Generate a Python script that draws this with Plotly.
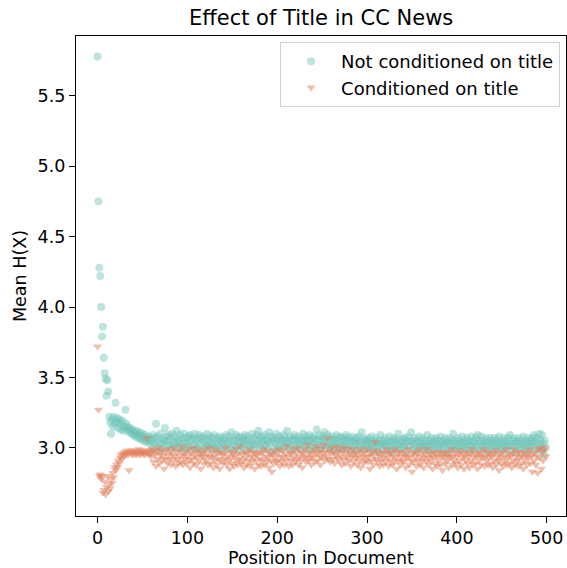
import plotly.graph_objects as go

title_text = "Effect of Title in CC News"
x_label = "Position in Document"
y_label = "Mean H(X)"
series_names = ["Not conditioned on title", "Conditioned on title"]
x_tick_vals = [0, 100, 200, 300, 400, 500]
y_tick_vals = [3.0, 3.5, 4.0, 4.5, 5.0, 5.5]

not_conditioned = [
    5.78, 4.75, 4.28, 4.22, 4.00, 3.79, 3.86, 3.64, 3.53, 3.49, 3.37, 3.48, 3.40, 3.22, 3.18, 3.10, 3.20, 3.15, 3.22, 3.17,
    3.32, 3.19, 3.21, 3.14, 3.18, 3.20, 3.13, 3.16, 3.19, 3.12, 3.15, 3.27, 3.17, 3.13, 3.15, 3.11, 3.14, 3.12, 3.10, 3.13,
    3.09, 3.11, 3.08, 3.12, 3.10, 3.07, 3.09, 3.11, 3.06, 3.08, 3.10, 3.05, 3.07, 3.09, 3.04, 3.06, 3.08, 3.05, 3.03, 3.07,
    3.05, 2.99, 3.09, 3.03, 3.07, 3.17, 3.01, 3.08, 3.04, 2.98, 3.10, 3.03, 3.06, 3.00, 3.05, 3.14, 3.08, 3.02, 3.05, 3.09,
    3.02, 3.07, 2.99, 3.10, 3.04, 3.01, 3.08, 3.03, 3.12, 3.06, 3.00, 3.04, 3.09, 3.01, 3.06, 2.98, 3.10, 3.04, 3.00, 3.07,
    3.03, 3.08, 3.01, 3.09, 3.05, 2.98, 3.07, 3.02, 3.10, 3.06, 3.00, 3.05, 2.99, 3.09, 3.03, 3.07, 2.97, 3.08, 3.04, 3.00,
    3.06, 3.02, 3.10, 3.01, 3.05, 3.08, 2.99, 3.03, 3.07, 3.01, 3.09, 3.04, 2.98, 3.03, 3.07, 3.00, 3.08, 3.05, 2.99, 3.03,
    3.07, 3.01, 3.05, 3.09, 2.99, 3.03, 3.08, 3.05, 3.00, 3.11, 3.06, 3.02, 2.98, 3.05, 3.09, 3.01, 3.07, 3.03, 3.08, 2.99,
    3.05, 3.01, 3.07, 3.03, 3.09, 3.05, 2.98, 3.08, 3.02, 3.06, 3.00, 3.04, 3.10, 3.03, 2.99, 3.07, 3.02, 3.09, 3.05, 3.12,
    3.01, 3.07, 3.03, 3.08, 2.99, 3.05, 3.09, 3.02, 3.06, 3.00, 3.05, 3.11, 3.03, 3.08, 2.97, 3.05, 3.07, 2.99, 3.03, 3.10,
    3.05, 3.00, 3.08, 3.03, 3.06, 2.99, 3.05, 3.09, 3.01, 3.07, 3.03, 3.12, 3.05, 3.00, 3.08, 3.02, 3.06, 2.98, 3.05, 3.09,
    3.02, 3.07, 3.00, 3.05, 3.08, 3.03, 2.99, 3.06, 3.04, 3.10, 3.01, 3.05, 3.08, 3.02, 3.06, 2.98, 3.09, 3.05, 3.00, 3.07,
    3.03, 3.08, 3.05, 3.00, 3.13, 3.06, 3.02, 3.09, 2.99, 3.05, 3.08, 3.02, 3.06, 3.11, 3.00, 3.04, 3.09, 3.02, 3.07, 3.00,
    3.05, 3.08, 3.02, 2.98, 3.06, 3.03, 3.09, 3.05, 2.99, 3.07, 3.02, 3.08, 2.99, 3.05, 3.01, 3.07, 3.03, 3.09, 3.05, 3.00,
    3.07, 3.02, 2.98, 3.05, 3.08, 3.01, 3.05, 3.03, 3.07, 2.98, 3.03, 3.08, 3.00, 3.05, 3.11, 3.03, 2.99, 3.06, 3.01, 3.05,
    3.03, 3.07, 2.99, 3.05, 3.01, 3.08, 3.03, 2.98, 3.05, 3.01, 3.07, 3.03, 2.97, 3.05, 3.01, 3.09, 3.03, 2.99, 3.05, 3.02,
    3.07, 3.03, 2.98, 3.05, 3.01, 3.08, 3.03, 2.97, 3.05, 3.01, 3.07, 2.99, 3.04, 3.06, 3.01, 3.10, 3.03, 2.99, 3.05, 3.01,
    3.06, 3.01, 3.07, 3.03, 2.98, 3.05, 3.08, 3.01, 3.04, 3.11, 3.05, 2.99, 3.03, 3.07, 3.00, 3.05, 2.97, 3.03, 3.08, 3.01,
    3.05, 3.01, 3.07, 3.03, 2.99, 3.05, 3.01, 3.09, 3.03, 2.98, 3.05, 3.01, 3.07, 3.03, 2.98, 3.05, 3.01, 3.07, 3.03, 2.99,
    3.05, 3.01, 3.08, 3.03, 2.98, 3.05, 3.01, 3.07, 3.03, 2.97, 3.05, 3.01, 3.07, 3.03, 2.99, 3.05, 3.10, 3.01, 3.05, 2.99,
    3.03, 3.07, 3.01, 3.05, 2.98, 3.03, 3.08, 3.01, 3.05, 2.99, 3.03, 3.07, 3.01, 3.05, 2.98, 3.03, 3.08, 3.01, 3.05, 2.99,
    3.03, 3.07, 3.01, 3.09, 3.05, 2.98, 3.03, 3.08, 3.01, 3.05, 2.99, 3.03, 3.07, 3.01, 3.05, 2.97, 3.03, 3.07, 3.01, 3.05,
    2.99, 3.03, 3.07, 3.01, 3.05, 2.98, 3.03, 3.08, 3.01, 3.05, 2.99, 3.03, 3.07, 3.01, 3.05, 2.98, 3.03, 3.07, 3.01, 3.09,
    3.03, 2.98, 3.05, 3.01, 3.07, 3.03, 2.97, 3.05, 3.01, 3.07, 3.03, 2.99, 3.05, 3.01, 3.08, 3.03, 2.98, 3.05, 3.01, 3.07,
    3.03, 2.98, 3.05, 3.01, 3.07, 3.03, 3.09, 3.05, 3.00, 3.07, 3.03, 2.98, 3.10, 3.05, 3.01, 3.09, 3.03, 2.95, 3.05, 3.00,
]

conditioned = [
    3.72, 3.27, 2.80, 2.81, 2.78, 2.80, 2.68, 2.70, 2.76, 2.67, 2.72, 2.80, 2.69, 2.74, 2.71, 2.78, 2.75, 2.82, 2.79, 2.86,
    2.84, 2.88, 2.86, 2.91, 2.89, 2.93, 2.95, 2.92, 2.96, 2.94, 2.97, 2.95, 2.96, 2.98, 2.95, 2.84, 2.97, 2.96, 2.98, 2.95,
    2.97, 2.96, 2.98, 2.95, 2.97, 2.96, 2.99, 2.95, 2.97, 2.98, 2.96, 2.97, 2.95, 2.98, 2.96, 3.07, 2.97, 2.95, 2.98, 2.96,
    2.94, 2.99, 2.90, 2.98, 2.95, 2.87, 2.97, 2.92, 3.00, 2.89, 2.95, 2.98, 2.91, 2.94, 2.85, 2.97, 2.92, 2.99, 2.89, 2.95,
    2.92, 2.98, 2.88, 2.95, 2.91, 3.00, 2.94, 2.87, 2.97, 2.92, 2.89, 2.98, 2.94, 2.90, 3.01, 2.88, 2.95, 2.92, 2.97, 2.89,
    2.94, 2.99, 2.91, 2.86, 2.96, 2.92, 3.00, 2.89, 2.94, 2.97, 2.88, 2.93, 2.99, 2.91, 2.96, 2.85, 2.94, 2.97, 2.89, 2.93,
    2.99, 2.91, 2.96, 2.88, 2.94, 3.00, 2.89, 2.93, 2.97, 2.86, 2.94, 2.91, 2.99, 2.88, 2.96, 2.92, 2.85, 2.97, 2.91, 2.95,
    2.89, 2.96, 2.92, 3.00, 2.88, 2.94, 2.91, 2.85, 2.97, 2.93, 2.89, 2.96, 2.87, 2.94, 2.99, 2.91, 2.88, 2.96, 2.92, 3.01,
    2.89, 2.95, 2.91, 2.86, 2.97, 2.93, 2.88, 2.96, 2.91, 2.99, 2.87, 2.94, 2.90, 2.97, 2.93, 2.85, 2.96, 2.91, 2.95, 2.88,
    2.97, 2.92, 2.87, 2.96, 2.91, 2.99, 2.88, 2.94, 2.90, 2.98, 2.93, 2.86, 2.96, 2.91, 2.83, 2.95, 2.89, 2.98, 2.93, 2.90,
    2.96, 2.91, 2.99, 2.87, 2.94, 2.90, 2.98, 2.93, 2.88, 2.96, 2.91, 3.01, 2.94, 2.87, 2.97, 2.91, 2.96, 2.88, 2.93, 2.99,
    2.90, 2.96, 2.92, 3.00, 2.88, 2.94, 2.91, 2.97, 2.86, 2.96, 2.93, 2.99, 2.90, 2.94, 3.02, 2.91, 2.97, 2.93, 2.88, 2.96,
    2.93, 2.99, 2.90, 2.96, 3.01, 2.91, 2.97, 2.94, 2.88, 2.99, 2.93, 2.96, 3.02, 2.91, 2.97, 2.94, 3.07, 2.92, 2.98, 2.90,
    2.96, 3.00, 2.92, 2.97, 2.89, 2.95, 3.01, 2.93, 2.97, 2.91, 2.99, 2.94, 2.88, 2.97, 2.92, 3.00, 2.89, 2.96, 2.93, 2.99,
    2.91, 2.96, 2.87, 2.94, 2.99, 2.90, 2.96, 2.93, 2.97, 2.88, 2.94, 2.91, 2.99, 2.86, 2.96, 2.93, 2.89, 2.97, 2.91, 2.94,
    2.99, 2.90, 2.94, 2.85, 2.96, 2.91, 2.97, 2.88, 2.94, 3.04, 2.92, 2.98, 2.90, 2.96, 2.87, 2.94, 2.91, 2.97, 2.88, 2.93,
    2.96, 2.90, 2.99, 2.93, 2.87, 2.96, 2.91, 2.97, 2.88, 2.94, 2.90, 2.99, 2.93, 2.85, 2.96, 2.91, 2.97, 2.88, 2.94, 2.91,
    2.97, 2.90, 2.94, 2.86, 2.96, 2.93, 2.99, 2.88, 2.94, 2.91, 2.83, 2.96, 2.90, 2.97, 2.93, 2.87, 2.96, 2.91, 2.99, 2.88,
    2.94, 2.91, 2.97, 2.86, 2.93, 2.96, 2.90, 2.99, 2.93, 2.88, 2.96, 2.91, 2.94, 2.85, 2.97, 2.93, 2.89, 2.96, 2.87, 2.94,
    2.91, 2.97, 2.88, 2.94, 2.84, 2.96, 2.93, 2.89, 2.97, 2.91, 2.94, 2.86, 2.96, 2.93, 2.99, 2.88, 2.94, 2.91, 2.97, 2.89,
    2.94, 2.86, 2.96, 2.91, 2.98, 2.88, 2.93, 2.96, 2.85, 2.94, 2.91, 2.97, 2.89, 2.94, 2.86, 2.96, 2.91, 2.99, 2.88, 2.93,
    2.96, 2.89, 2.94, 2.85, 2.97, 2.91, 2.94, 2.88, 2.96, 2.93, 2.99, 2.87, 2.94, 2.91, 2.97, 2.88, 2.93, 2.96, 2.89, 2.94,
    2.86, 2.96, 2.91, 2.98, 2.88, 2.94, 2.91, 2.84, 2.96, 2.93, 2.89, 2.97, 2.87, 2.94, 2.91, 2.99, 2.88, 2.93, 2.96, 2.89,
    2.94, 2.86, 2.96, 2.91, 2.99, 2.88, 2.94, 2.91, 2.97, 2.87, 2.93, 2.96, 2.89, 2.94, 2.85, 2.97, 2.91, 2.94, 2.88, 2.96,
    2.93, 2.99, 2.89, 2.94, 2.83, 2.96, 2.91, 2.97, 2.88, 2.94, 2.82, 2.99, 2.93, 3.00, 2.85, 2.97, 2.91, 2.98, 3.00, 2.94,
]

positions = list(range(len(not_conditioned)))

FONT = "DejaVu Sans"
fig = go.Figure()
fig.add_trace(go.Scatter(
    x=positions, y=not_conditioned, mode="markers", name=series_names[0],
    marker=dict(symbol="circle", size=8, color="rgba(108,196,184,0.45)", line=dict(width=0)),
))
fig.add_trace(go.Scatter(
    x=positions[:len(conditioned)], y=conditioned, mode="markers", name=series_names[1],
    marker=dict(symbol="triangle-down", size=8, color="rgba(228,128,92,0.5)", line=dict(width=0)),
))

axis_common = dict(
    showgrid=False, zeroline=False, showline=True, mirror=True, automargin=False,
    linecolor="black", linewidth=1.3, ticks="outside", ticklen=6, tickwidth=1.3,
    tickcolor="black", tickfont=dict(family=FONT, size=17.5, color="black"),
)

fig.update_layout(
    width=567, height=568,
    margin=dict(l=76, r=1, t=36, b=52, autoexpand=False),
    paper_bgcolor="white", plot_bgcolor="white",
    font=dict(family=FONT, size=17.5, color="black"),
    xaxis=dict(range=[-24, 521.5], tickvals=x_tick_vals, **axis_common),
    yaxis=dict(range=[2.515, 5.926], tickvals=y_tick_vals, tickformat=".1f", **axis_common),
    legend=dict(x=0.988, xanchor="right", y=0.9875, yanchor="top", itemwidth=50,
                bgcolor="rgba(255,255,255,0.8)", bordercolor="#d0d0d0", borderwidth=1,
                font=dict(family=FONT, size=18, color="black")),
    showlegend=True,
    annotations=[
        dict(text=title_text, xref="paper", yref="paper", x=0.5, y=1.0375,
             xanchor="center", yanchor="middle", showarrow=False,
             font=dict(family=FONT, size=21, color="black")),
        dict(text=x_label, xref="paper", yref="paper", x=0.5, y=-0.0875,
             xanchor="center", yanchor="middle", showarrow=False,
             font=dict(family=FONT, size=17.5, color="black")),
        dict(text=y_label, xref="paper", yref="paper", x=-0.1143, y=0.5,
             xanchor="center", yanchor="middle", showarrow=False, textangle=-90,
             font=dict(family=FONT, size=17.5, color="black")),
    ],
)

fig.write_html(
    "out.html",
    config={"displayModeBar": False},
    post_script="document.body.style.margin='0';document.body.style.overflow='hidden';",
)
